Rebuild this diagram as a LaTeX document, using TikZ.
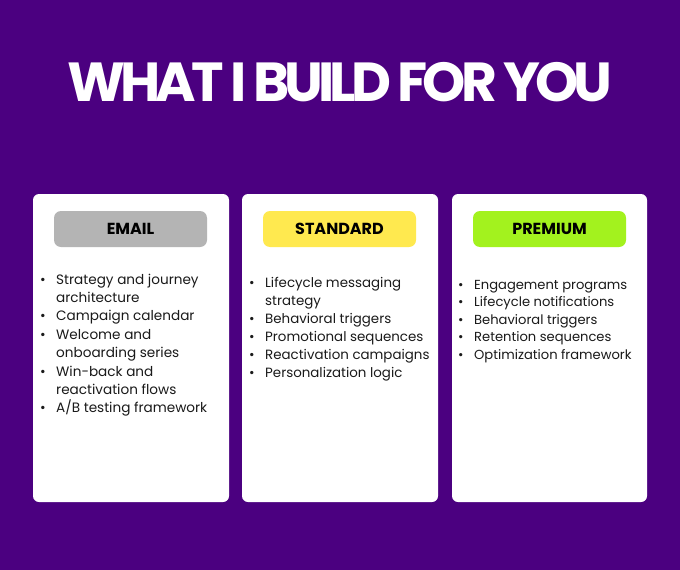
\documentclass[tikz,border=0pt]{standalone}
\usepackage{fontspec}
\setmainfont{Poppins}
\definecolor{bgpurple}{HTML}{4B0080}
\definecolor{badgegrey}{HTML}{B4B4B4}
\definecolor{badgeyellow}{HTML}{FFE94F}
\definecolor{badgegreen}{HTML}{A3F21E}
\definecolor{txt}{HTML}{1A1A1A}
\tikzset{
  card/.style={fill=white, rounded corners=6pt},
  badge/.style={rounded corners=7pt, minimum width=153pt, minimum height=36pt, inner sep=0pt,
    font=\fontsize{16}{18}\selectfont\bfseries, text=black},
  list/.style={anchor=base west, inner sep=0pt, text=txt, font=\fontsize{13.6}{18.4}\selectfont},
}
\newcommand{\bl}{\makebox[16pt][l]{\textbullet}}
\begin{document}
\begin{tikzpicture}[x=1pt,y=-1pt]
\fill[bgpurple] (0,0) rectangle (680,570);
\useasboundingbox (0,0) rectangle (680,570);
\node[anchor=base, text=white, inner sep=0pt, font=\fontsize{55}{60}\selectfont\bfseries\addfontfeature{LetterSpace=-9}] (title) at (340,101) {WHAT I BUILD FOR YOU};

\fill[card] (33,194) rectangle (229,502);
\fill[card] (242,194) rectangle (438,502);
\fill[card] (452,194) rectangle (647,502);

\node[badge, fill=badgegrey] (b1) at (130.5,229) {EMAIL};
\node[badge, fill=badgeyellow] (b2) at (339.5,229) {STANDARD};
\node[badge, fill=badgegreen] (b3) at (549.5,229) {PREMIUM};

\node[list] (l1) at (40,284) {\begin{tabular}[t]{@{}l@{}}
\bl Strategy and journey\\
\hspace{16pt}architecture\\
\bl Campaign calendar\\
\bl Welcome and\\
\hspace{16pt}onboarding series\\
\bl Win-back and\\
\hspace{16pt}reactivation flows\\
\bl A/B testing framework
\end{tabular}};

\node[list, font=\fontsize{13.4}{18}\selectfont] (l2) at (249,287) {\begin{tabular}[t]{@{}l@{}}
\bl Lifecycle messaging\\
\hspace{16pt}strategy\\
\bl Behavioral triggers\\
\bl Promotional sequences\\
\bl Reactivation campaigns\\
\bl Personalization logic
\end{tabular}};

\node[list, font=\fontsize{13.1}{17.5}\selectfont] (l3) at (458,289) {\begin{tabular}[t]{@{}l@{}}
\bl Engagement programs\\
\bl Lifecycle notifications\\
\bl Behavioral triggers\\
\bl Retention sequences\\
\bl Optimization framework
\end{tabular}};
\end{tikzpicture}
\end{document}
